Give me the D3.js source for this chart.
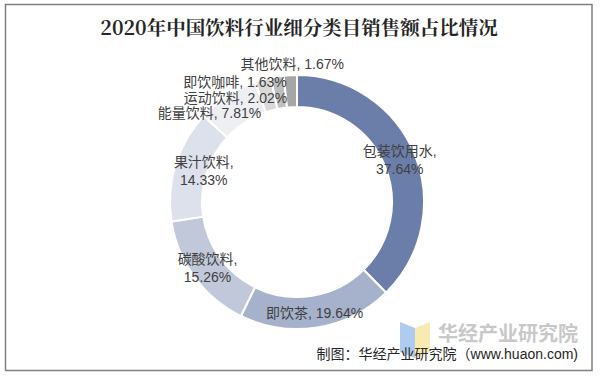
<!DOCTYPE html>
<html><head><meta charset="utf-8">
<script src="https://cdn.jsdelivr.net/npm/d3@7"></script>
<style>
html,body{margin:0;padding:0;background:#fff;}
svg text{font-family:"Liberation Sans","Noto Sans CJK SC",sans-serif;}
</style></head>
<body>
<svg id="c" width="600" height="378"></svg>
<script>
const title = "2020年中国饮料行业细分类目销售额占比情况";
const categories = ["包装饮用水","即饮茶","碳酸饮料","果汁饮料","能量饮料","运动饮料","即饮咖啡","其他饮料"];
const values = [37.64,19.64,15.26,14.33,7.81,2.02,1.63,1.67];
const colors = ["#6a7ea9","#a6b2cc","#c0c8d9","#dde1eb","#eeeff2","#d9d9d9","#bfbfbf","#a6a6a6"];
// label layout: nudge from arc centroid, anchor, two lines or not
const labelLayout = [
  {dx:0, dy:0, anchor:"middle", split:true},
  {dx:0, dy:1, anchor:"middle", split:false},
  {dx:0, dy:0, anchor:"middle", split:true},
  {dx:13, dy:1, anchor:"middle", split:true},
  {dx:25, dy:4, anchor:"end", split:false},
  {dx:20, dy:3, anchor:"end", split:false},
  {dx:7, dy:-10, anchor:"end", split:false},
  {dx:1, dy:-27, anchor:"middle", split:false}
];

const svg = d3.select("#c");
svg.append("rect").attr("x",5.5).attr("y",4.5).attr("width",586.5).attr("height",366)
  .attr("fill","#fff").attr("stroke","#7f7f7f").attr("stroke-width",1.5);

svg.append("text").attr("x",299).attr("y",27).attr("text-anchor","middle")
  .attr("dominant-baseline","central")
  .style("font-family","'Noto Serif CJK SC','Noto Sans CJK SC',serif")
  .attr("font-size",19.5).attr("font-weight","bold").attr("fill","#262626").text(title);

const cx = 297, cy = 202, R = 127, r = 95;
const data = categories.map((c,i)=>({name:c, value:values[i], color:colors[i], lay:labelLayout[i]}));
const pie = d3.pie().value(d=>d.value).sort(null);
const arc = d3.arc().innerRadius(r).outerRadius(R);
const g = svg.append("g").attr("transform",`translate(${cx},${cy})`);
const arcs = pie(data);
g.selectAll("path").data(arcs).join("path")
  .attr("d",arc).attr("fill",d=>d.data.color).attr("stroke","#fff").attr("stroke-width",2);

const lg = g.append("g").attr("font-size",14).attr("fill","#404040");
arcs.forEach(a=>{
  const [x,y] = arc.centroid(a);
  const L = a.data.lay;
  const px = x+L.dx, py = y+L.dy;
  const pct = a.data.value.toFixed(2)+"%";
  const t = lg.append("text").attr("text-anchor",L.anchor).attr("dominant-baseline","central");
  if(L.split){
    t.append("tspan").attr("x",px).attr("y",py-9).text(a.data.name+",");
    t.append("tspan").attr("x",px).attr("y",py+9).text(pct);
  } else {
    t.attr("x",px).attr("y",py).text(a.data.name+", "+pct);
  }
});

// watermark
svg.append("polygon").attr("points","400,322 415,328 415,358 400,352").attr("fill","#aecbf0");
svg.append("polygon").attr("points","415,328 430,322 430,352 415,358").attr("fill","#f8eab0");
svg.append("text").attr("x",578).attr("y",334).attr("text-anchor","end").attr("dominant-baseline","central")
  .attr("font-size",20).attr("font-weight","bold").attr("fill","#c8c8c8").text("华经产业研究院");
svg.append("text").attr("x",578).attr("y",354).attr("text-anchor","end").attr("dominant-baseline","central")
  .attr("font-size",14).attr("fill","#262626").text("制图：华经产业研究院（www.huaon.com)");
</script>
</body></html>
